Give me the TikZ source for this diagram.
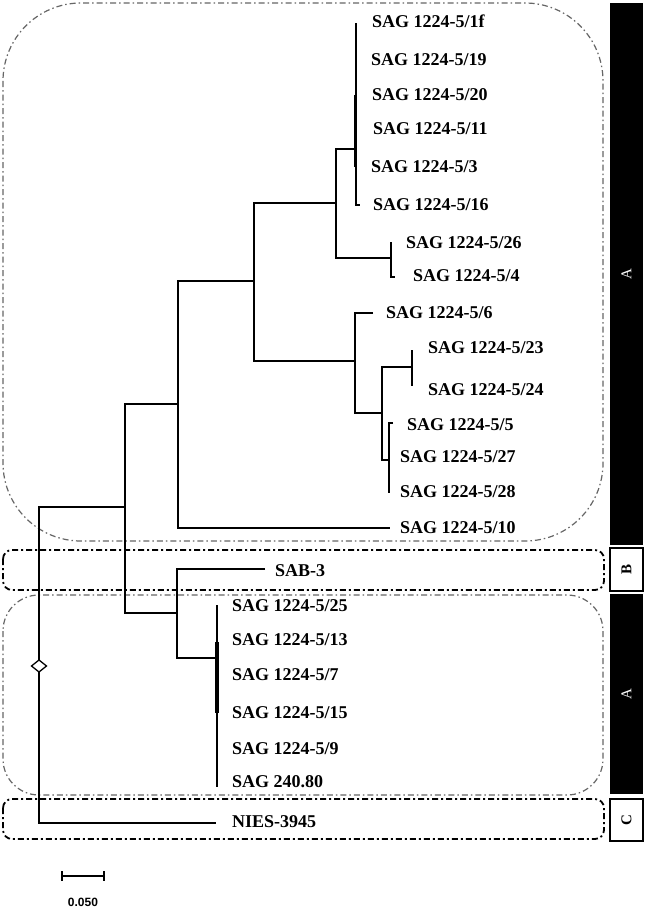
\documentclass[tikz,border=0pt]{standalone}
\usepackage{fontspec}
\setmainfont{Liberation Serif}
\newfontfamily\scalefont{Liberation Sans}
\begin{document}
\begin{tikzpicture}[x=1pt,y=-1pt,
  br/.style={line width=1.9pt},
  thickbr/.style={line width=3.4pt},
  lab/.style={anchor=west,inner sep=0pt,font=\fontsize{18}{20}\selectfont\bfseries},
  grpA/.style={draw=black!60,line width=1.2pt,dash pattern=on 6pt off 3pt on 1.5pt off 3pt},
  grpBC/.style={draw=black,line width=1.8pt,dash pattern=on 6pt off 3pt on 2pt off 3pt,rounded corners=9pt},
  sidebar/.style={fill=black},
  sidebox/.style={draw=black,line width=1.2pt,fill=white},
  sidewhite/.style={rotate=90,text=white,inner sep=0pt,font=\fontsize{15}{16}\selectfont},
  sidetxt/.style={rotate=90,inner sep=0pt,font=\fontsize{15}{16}\selectfont\bfseries}]
\useasboundingbox (0,0) rectangle (647,916);
\fill[white] (0,0) rectangle (647,916);

% group boxes
\draw[grpA,rounded corners=78pt] (3,3) rectangle (603,541);
\draw[grpBC] (3,550) rectangle (604,590);
\draw[grpA,rounded corners=36pt] (3,595) rectangle (603,795);
\draw[grpBC] (3,799) rectangle (604,839);

% side bars
\fill[sidebar] (610,3) rectangle (643,545);
\node[sidewhite] (labA1) at (626.5,274) {A};
\draw[sidebox] (610,548) rectangle (643,591);
\node[sidetxt] (labB) at (626.5,569.5) {B};
\fill[sidebar] (610,594) rectangle (643,794);
\node[sidewhite] (labA2) at (626.5,694) {A};
\draw[sidebox] (610,799) rectangle (643,841);
\node[sidetxt] (labC) at (626.5,820) {C};

% leaf labels
\node[lab] (s1f) at (372,21) {SAG 1224-5/1f};
\node[lab] (s19) at (371,60) {SAG 1224-5/19};
\node[lab] (s20) at (372,95) {SAG 1224-5/20};
\node[lab] (s11) at (373,129) {SAG 1224-5/11};
\node[lab] (s3) at (371,167) {SAG 1224-5/3};
\node[lab] (s16) at (373,205) {SAG 1224-5/16};
\node[lab] (s26) at (406,243) {SAG 1224-5/26};
\node[lab] (s4) at (413,276) {SAG 1224-5/4};
\node[lab] (s6) at (386,313) {SAG 1224-5/6};
\node[lab] (s23) at (428,348) {SAG 1224-5/23};
\node[lab] (s24) at (428,390) {SAG 1224-5/24};
\node[lab] (s5) at (407,425) {SAG 1224-5/5};
\node[lab] (s27) at (400,457) {SAG 1224-5/27};
\node[lab] (s28) at (400,492) {SAG 1224-5/28};
\node[lab] (s10) at (400,528) {SAG 1224-5/10};
\node[lab] (sab) at (275,571) {SAB-3};
\node[lab] (s25) at (232,606) {SAG 1224-5/25};
\node[lab] (s13) at (232,640) {SAG 1224-5/13};
\node[lab] (s7) at (232,675) {SAG 1224-5/7};
\node[lab] (s15) at (232,713) {SAG 1224-5/15};
\node[lab] (s9) at (232,749) {SAG 1224-5/9};
\node[lab] (s240) at (232,782) {SAG 240.80};
\node[lab] (nies) at (232,822) {NIES-3945};

% tree
\draw[br] (356,23) -- (356,205) -- (360,205);
\draw[thickbr] (355.5,95) -- (355.5,167);
\draw[br] (356,149) -| (336,258) -- (391,258);
\draw[br] (391,242) -- (391,277) -- (395,277);
\draw[br] (336,203) -| (254,361) -- (355,361);
\draw[br] (373,313) -| (355,413) -- (382,413);
\draw[br] (412,367) -| (382,460) -- (389,460);
\draw[br] (412,350) -- (412,386);
\draw[br] (393,423) -| (389,493);
\draw[br] (254,281) -| (178,528) -- (390,528);
\draw[br] (178,404) -| (125,613) -- (177,613);
\draw[br] (265,569) -| (177,658) -- (217,658);
\draw[br] (217,605) -- (217,787);
\draw[thickbr] (217,642) -- (217,713);
\draw[br] (125,507) -| (39,823) -- (216,823);
\draw[line width=1.3pt,fill=white] (31.5,666) -- (39,660) -- (46.5,666) -- (39,672) -- cycle;

% scale bar
\draw[br] (62,876) -- (104,876);
\draw[line width=1.4pt] (62,871) -- (62,881);
\draw[line width=1.4pt] (104,871) -- (104,881);
\node[inner sep=0pt,font=\scalefont\fontsize{12}{13}\selectfont\bfseries] (scl) at (83,902) {0.050};
\end{tikzpicture}
\end{document}
